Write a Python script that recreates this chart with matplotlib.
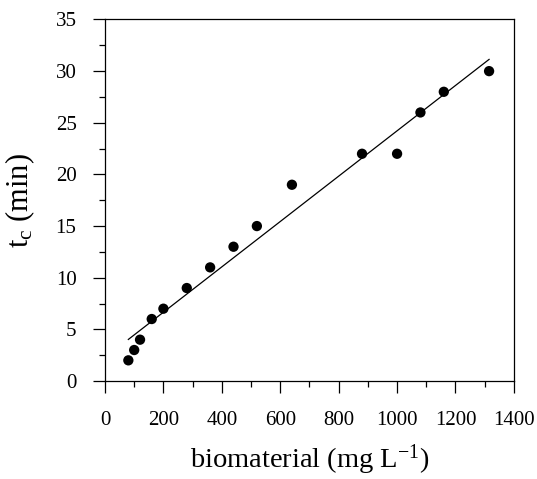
import numpy as np
import matplotlib
matplotlib.use("Agg")
import matplotlib.pyplot as plt
from matplotlib.ticker import MultipleLocator

plt.rcParams['font.family'] = ['Liberation Serif', 'DejaVu Serif']
plt.rcParams['mathtext.fontset'] = 'custom'
plt.rcParams['mathtext.rm'] = 'Liberation Serif'
plt.rcParams['mathtext.it'] = 'Liberation Serif:italic'

biomaterial = [80, 100, 120, 160, 200, 280, 360, 440, 520, 640, 880, 1000, 1080, 1160, 1315]
tc = [2, 3, 4, 6, 7, 9, 11, 13, 15, 19, 22, 22, 26, 28, 30]

fig = plt.figure(figsize=(5.37, 4.79), dpi=100)
ax = fig.add_axes([0.1955, 0.2046, 0.957 - 0.1955, 0.9593 - 0.2046])

x = np.array(biomaterial, dtype=float)
y = np.array(tc, dtype=float)
slope, intercept = np.polyfit(x, y, 1)
xl = np.array([x.min(), x.max()])
ax.plot(xl, slope * xl + intercept, color='black', lw=0.9)
ax.scatter(x, y, s=55, color='black', zorder=3, edgecolors='none')

ax.set_xlim(0, 1400)
ax.set_ylim(0, 35)
ax.xaxis.set_major_locator(MultipleLocator(200))
ax.xaxis.set_minor_locator(MultipleLocator(100))
ax.yaxis.set_major_locator(MultipleLocator(5))
ax.yaxis.set_minor_locator(MultipleLocator(2.5))
ax.tick_params(which='major', direction='out', length=8.5, width=0.9, labelsize=15)
ax.tick_params(which='minor', direction='out', length=4, width=0.9)
ax.tick_params(axis='x', which='major', pad=13)
ax.tick_params(axis='y', which='major', pad=12)
for s in ax.spines.values():
    s.set_linewidth(0.9)

ax.set_xlabel(r'biomaterial (mg L$^{\mathregular{-1}}$)', fontsize=20.5, labelpad=9)
ax.set_ylabel(r't$_{\mathregular{c}}$ (min)', fontsize=22, labelpad=13)

fig.savefig('out.png', dpi=100)
